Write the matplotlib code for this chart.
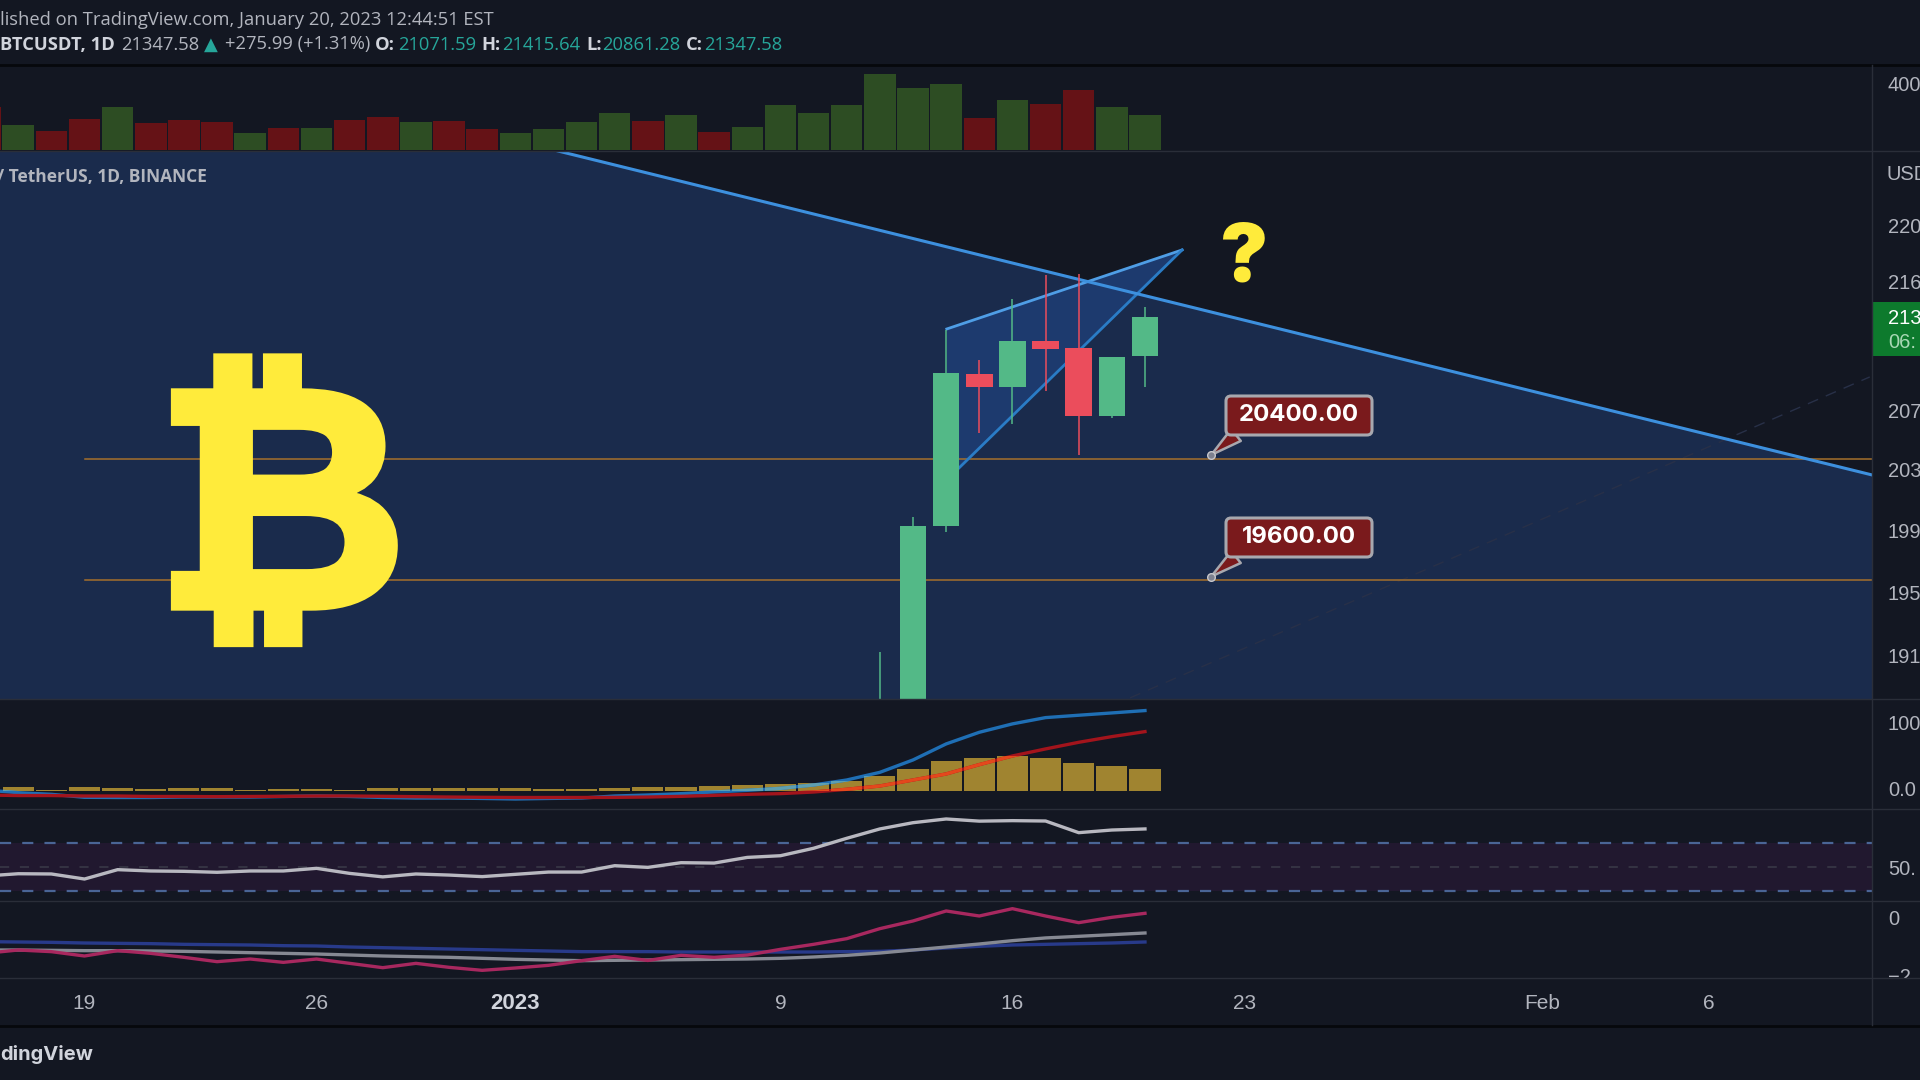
import matplotlib
matplotlib.use('Agg')
import matplotlib.pyplot as plt
import matplotlib.patheffects as pe
from matplotlib.patches import FancyBboxPatch
from matplotlib.path import Path
from matplotlib.ticker import NullLocator
from matplotlib.transforms import IdentityTransform

# daily index: 0 = Dec 19, 32 = Jan 20
vol_days = list(range(-3, 33))
vol_values = [260, 150, 116, 184, 256, 164, 180, 168, 104, 130, 132, 180, 198, 168, 172, 124, 104, 126,
              168, 224, 172, 210, 110, 140, 270, 224, 270, 456, 370, 396, 191, 301, 279, 360, 257, 213]
vol_up = [0, 1, 0, 0, 1, 0, 0, 0, 1, 0, 1, 0, 0, 1, 0, 0, 1, 1,
          1, 1, 0, 1, 0, 1, 1, 1, 1, 1, 1, 1, 0, 1, 0, 0, 1, 1]

candle_days = [24, 25, 26, 27, 28, 29, 30, 31, 32]
candle_open = [17950, 18700, 19930, 20950, 20863, 21181, 21128, 20665, 21071.59]
candle_high = [19117, 19988, 21258, 21047, 21474, 21644, 21651, 21068, 21415.64]
candle_low = [17900, 18600, 19888, 20548, 20609, 20836, 20400, 20650, 20861.28]
candle_close = [18800, 19930, 20954, 20863, 21181, 21123, 20665, 21068, 21347.58]

trend_days = [14.29, 53.94]
trend_prices = [22545, 20266]
wedge_days = [26.02, 33.12, 26.39]
wedge_prices = [21263, 21823, 20313]
ray_days = [31.55, 53.87]
ray_prices = [18833, 20930]
level_prices = [20372, 19575]
level_start = 0
callout_day = 34
callout_prices = [20400, 19600]
callout_labels = ['20400.00', '19600.00']

hist_days = list(range(-2, 33))
hist_values = [6, 2.2, 5.2, 4.4, 3.7, 4.4, 4.4, 2.2, 3, 3, 2.2, 4.4, 4.4, 4.4, 4.4, 4.4, 3, 3,
               4, 5.5, 6.4, 7.4, 8.4, 9.9, 11.8, 14.8, 22.6, 33, 44.4, 48.8, 51.4, 48.8, 41.4, 37, 33]
ma_days = list(range(-3, 33))
ma_blue = [1.5, -2.5, -4.9, -9.3, -9.6, -9.6, -8.9, -8.9, -8.9, -8.1, -7.4, -8.1, -9.6, -10.4, -10.4, -11,
           -11.8, -11, -10.4, -7.4, -5.9, -3.9, -1.5, 1, 3.9, 8.9, 16.3, 27.6, 45.9, 69.6, 86.8, 99.2,
           108.5, 112, 115.4, 118.9]
ma_red = [-5.9, -6.7, -6.7, -7.4, -7.4, -8.1, -8.1, -8.4, -8.1, -7.8, -7.4, -7.4, -7.8, -8.4, -8.9, -9.3,
          -9.6, -9.6, -9.6, -9.4, -8.9, -7.9, -6.4, -4.9, -3.9, -1.5, 2.5, 7.4, 16.3, 25.2, 39, 51.8,
          62.2, 72, 80.4, 87.8]

rsi_values = [42.5, 44.4, 44.2, 40, 47.8, 46.7, 46.4, 45.6, 46.7, 46.7, 48.9, 44.7, 41.8, 44.2, 43.3, 42,
              43.9, 45.8, 45.8, 51.1, 49.7, 53.6, 53.3, 58, 59.4, 65.6, 73.9, 81.7, 86.9, 90, 88.2, 88.6,
              88.3, 78.6, 80.8, 81.7]
rsi_levels = [70, 50, 30]

osc_crimson = [-1.24, -1.123, -1.181, -1.333, -1.146, -1.24, -1.38, -1.532, -1.439, -1.556, -1.439, -1.591,
               -1.743, -1.591, -1.731, -1.836, -1.754, -1.661, -1.497, -1.345, -1.49, -1.31, -1.38, -1.3,
               -1.1, -0.924, -0.725, -0.374, -0.105, 0.246, 0.07, 0.327, 0.07, -0.164, 0.023, 0.164]
osc_gray = [-1.123, -1.123, -1.135, -1.146, -1.146, -1.158, -1.17, -1.193, -1.216, -1.24, -1.263, -1.298,
            -1.333, -1.357, -1.38, -1.415, -1.45, -1.474, -1.497, -1.485, -1.474, -1.462, -1.45, -1.439,
            -1.415, -1.368, -1.31, -1.228, -1.123, -1.018, -0.912, -0.795, -0.7, -0.643, -0.585, -0.526]
osc_blue = [-0.83, -0.842, -0.854, -0.877, -0.889, -0.9, -0.924, -0.936, -0.947, -0.971, -0.982, -1.018,
            -1.041, -1.064, -1.088, -1.111, -1.135, -1.158, -1.181, -1.18, -1.18, -1.193, -1.193, -1.193,
            -1.193, -1.193, -1.18, -1.17, -1.123, -1.053, -0.994, -0.947, -0.924, -0.9, -0.877, -0.842]

price_ticks = [22000, 21600, 20700, 20300, 19900, 19500, 19100]
price_tick_labels = ['220', '216', '207', '203', '199', '195', '191']
date_ticks = [0, 7, 13, 21, 28, 35, 44, 49]
date_labels = ['19', '26', '2023', '9', '16', '23', 'Feb', '6']

BG = '#131722'
SEP = '#2a2e39'
TXT = '#b2b5be'
BRIGHT = '#d1d4dc'
TEAL = '#26a69a'
UP = '#53b987'
DOWN = '#eb4d5c'
W, H = 1920, 1080
AXIS_X = 1872
XL = -84.5 / 33.14
XR = (AXIS_X - 84.5) / 33.14
FONT = 'Open Sans'
AXFONT = 'Liberation Sans'

fig = plt.figure(figsize=(19.2, 10.8), dpi=100, facecolor=BG)


def pane(top, bottom, width=AXIS_X):
    ax = fig.add_axes([0, 1 - bottom / H, width / W, (bottom - top) / H], facecolor=BG)
    for s in ax.spines.values():
        s.set_visible(False)
    ax.set_xlim(XL, (width - 84.5) / 33.14)
    ax.tick_params(length=0, labelbottom=False, labelleft=False, labelright=True, right=False, left=False,
                   pad=11.5, labelcolor=TXT, labelsize=14.5)
    ax.set_xticks([])
    ax.yaxis.tick_right()
    return ax


def label(x, y, s, **kw):
    kw.setdefault('family', FONT)
    kw.setdefault('color', TXT)
    kw.setdefault('fontsize', 13.2)
    return fig.text(x / W, 1 - y / H, s, va='center', ha=kw.pop('ha', 'left'), **kw)


# volume
ax_vol = pane(66, 150)
ax_vol.bar(vol_days, vol_values, width=0.95, color=['#2d4d23' if u else '#651216' for u in vol_up])
ax_vol.set_ylim(0, 504)
ax_vol.set_yticks([400], ['400'], family=AXFONT)

# price
ax = pane(151, 699)
ax.set_yscale('log')
ymax, ymin = 22545, 18826
ax.set_ylim(ymin, ymax)
ax.fill([XL, trend_days[0], trend_days[1], trend_days[1], XL],
        [ymax, trend_prices[0], trend_prices[1], ymin, ymin], color='#1a2b4c', lw=0, zorder=1)
ax.fill(wedge_days[:2] + [wedge_days[2], wedge_days[0]],
        wedge_prices[:2] + [wedge_prices[2], 20330], color='#1d3a6e', lw=0, zorder=1.5)
ax.plot(ray_days, ray_prices, color='#283048', lw=1, ls=(0, (8, 6)), zorder=2)
for p in level_prices:
    ax.plot([level_start, XR], [p, p], color='#a5702c', lw=1.1, zorder=2)
ax.plot(wedge_days[:2], wedge_prices[:2], color='#4f9ee6', lw=2, zorder=2)
ax.plot(wedge_days[1:], wedge_prices[1:], color='#2a7cc6', lw=2, zorder=2)
ax.plot(trend_days, trend_prices, color='#3d90de', lw=2.2, zorder=2.5)
for d, o, hi, lo, c in zip(candle_days, candle_open, candle_high, candle_low, candle_close):
    col = UP if c >= o else DOWN
    ax.vlines(d, lo, hi, color=col, lw=1.1, zorder=3)
    ax.bar(d, abs(c - o), bottom=min(o, c), width=0.8, color=col, zorder=4)
ax.set_yticks(price_ticks, price_tick_labels, family=AXFONT)
ax.yaxis.set_minor_locator(NullLocator())

# callouts: same box size for both, tail goes from the box to the anchor dot
for p, s, box_top in zip(callout_prices, callout_labels, [396, 518]):
    ax.annotate('', xy=(callout_day, p), xytext=(1236, H - box_top - 39), textcoords='figure pixels',
                arrowprops=dict(arrowstyle='wedge,tail_width=0.55,shrink_factor=0.5', fc='#7a1a1c', ec='#a8a8ae',
                                lw=1.8, mutation_scale=20, shrinkA=0, shrinkB=0), zorder=5.5)
    ax.add_patch(FancyBboxPatch((1226, H - box_top - 39), 146, 39, boxstyle='round,pad=0,rounding_size=5',
                                fc='#7a1a1c', ec='#a8a8ae', lw=2.2, transform=IdentityTransform(),
                                clip_on=False, zorder=6))
    ax.plot([callout_day], [p], 'o', ms=5.5, color='#7d8190', mec='#c8c8cc', mew=1, zorder=7)
    label(1299, box_top + 19, s, ha='center', color='white', fontsize=17.3, fontweight='bold', family='Inter')

# ribbon + volume oscillator pane
ax_ma = pane(699, 809)
ax_ma.set_ylim(-26.6, 136)
bars = ax_ma.bar(hist_days, hist_values, width=0.94, color='#a08430', zorder=2)
ax_ma.plot(ma_days, ma_blue, color='#1f6fb5', lw=2.4, zorder=3)
ax_ma.plot(ma_days, ma_red, color='#a3141c', lw=2.4, zorder=3)
# the lines change hue where they cross the columns
over = Path.make_compound_path(*[b.get_path().transformed(b.get_patch_transform()) for b in bars])
for vals, col in [(ma_blue, '#5d9fb0'), (ma_red, '#e4481c')]:
    line, = ax_ma.plot(ma_days, vals, color=col, lw=2.4, zorder=3.5)
    line.set_clip_path(over, ax_ma.transData)
ax_ma.set_yticks([101, 3], ['100', '0.0'], family=AXFONT)

# rsi
ax_rsi = pane(809, 901)
ax_rsi.set_ylim(21.7, 98.3)
ax_rsi.axhspan(rsi_levels[2], rsi_levels[0], color='#21182f', lw=0)
ax_rsi.axhline(rsi_levels[0], color='#4a6596', lw=1.6, ls=(0, (5, 5)))
ax_rsi.axhline(rsi_levels[2], color='#4a6596', lw=1.6, ls=(0, (5, 5)))
ax_rsi.axhline(rsi_levels[1], color='#3a3a48', lw=1.1, ls=(0, (6, 7)))
ax_rsi.plot(ma_days, rsi_values, color='#b8b8c0', lw=2.4)
ax_rsi.set_yticks([50], ['50.'], family=AXFONT)

# third oscillator
ax_osc = pane(901, 978)
ax_osc.set_ylim(-2.105, 0.596)
ax_osc.plot(ma_days, osc_blue, color='#283a8a', lw=2.4)
ax_osc.plot(ma_days, osc_gray, color='#868993', lw=2.4)
ax_osc.plot(ma_days, osc_crimson, color='#a8285f', lw=2.4)
ax_osc.set_yticks([0, -2], ['0', '\u22122'], family=AXFONT)

# time axis, drawn last so that it cuts the -2 label
ax_time = pane(978, 1025, width=W)
ax_time.set_ylim(0, 1)
ax_time.set_yticks([])
for d, s in zip(date_ticks, date_labels):
    ax_time.text(d, 0.46, s, ha='center', va='center', color=BRIGHT if s == '2023' else TXT, family=AXFONT,
                 fontsize=16 if s == '2023' else 15, fontweight='bold' if s == '2023' else 'normal')

# separators
for y in [151, 699, 809, 901, 978]:
    fig.add_artist(plt.Line2D([0, 1], [1 - y / H, 1 - y / H], color=SEP, lw=1))
for y in [64.5, 1026]:
    fig.add_artist(plt.Line2D([0, 1], [1 - y / H, 1 - y / H], color='#06080c', lw=2))
fig.add_artist(plt.Line2D([AXIS_X / W, AXIS_X / W], [1 - 1025 / H, 1 - 65 / H], color=SEP, lw=1))

# last price tag
fig.add_artist(plt.Rectangle((AXIS_X / W, 1 - 356 / H), 48 / W, 54 / H, color='#0d7a2d', lw=0,
                             transform=fig.transFigure))
label(1888, 318, '213', family=AXFONT, fontsize=14.5, color='#ffffff')
label(1888, 342, '06:', family=AXFONT, fontsize=14.5, color='#a8d8b4')
label(1887, 174, 'USD', family=AXFONT, fontsize=14.5)

# drawing tools with text on them
label(281, 526, '\u20bf', family='Liberation Sans', fontweight='bold', fontsize=224, color='#ffeb3b', ha='center',
      path_effects=[pe.withStroke(linewidth=6, foreground='#ffeb3b', joinstyle='miter')])
label(1244, 261, '?', family='Inter', fontweight='black', fontsize=58, color='#ffeb3b', ha='center')

# header
label(0, 20, 'lished on TradingView.com, January 20, 2023 12:44:51 EST')
label(0, 44.5, 'BTCUSDT, 1D', fontweight='bold', color=BRIGHT)
label(121, 44.5, '21347.58', color=TXT)
label(204, 44.5, '\u25b2', color=TEAL, fontsize=13, family='DejaVu Sans')
label(225, 44.5, '+275.99 (+1.31%)', color=TXT)
for tx, k, vx, v in [(375, 'O:', 398, '21071.59'), (481, 'H:', 502, '21415.64'),
                     (586, 'L:', 602, '20861.28'), (686, 'C:', 704, '21347.58')]:
    label(tx, 44.5, k, fontweight='bold', color=BRIGHT)
    label(vx, 44.5, v, color=TEAL)
label(-3, 177, '/ TetherUS, 1D, BINANCE', fontweight='bold', fontsize=12.5)
label(0, 1055, 'dingView', family='Inter', fontweight='bold', fontsize=14.5, color=BRIGHT)

plt.savefig('out.png', dpi=100, facecolor=BG)
